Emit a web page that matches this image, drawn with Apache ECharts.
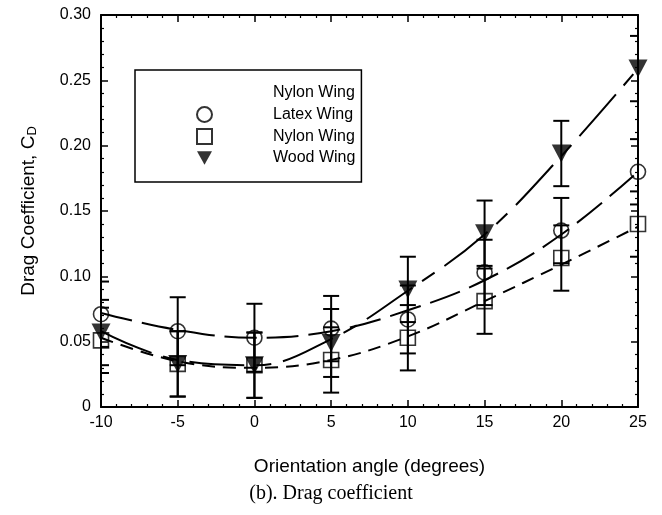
<!DOCTYPE html>
<html>
<head>
<meta charset="utf-8">
<script src="https://cdn.jsdelivr.net/npm/echarts@6/dist/echarts.min.js"></script>
<style>
  html, body { margin: 0; padding: 0; background: #fff; }
  #chart { width: 662px; height: 515px; }
</style>
</head>
<body>
<div id="chart"></div>
<script>
// Orientation angles (degrees)
const angles = [-10, -5, 0, 5, 10, 15, 20, 25];

// Measured drag coefficients
const latexCd = [0.071, 0.058, 0.053, 0.060, 0.067, 0.103, 0.135, 0.180];
const nylonCd = [0.051, 0.033, 0.032, 0.036, 0.053, 0.081, 0.114, 0.140];
const woodCd  = [0.057, 0.033, 0.032, 0.049, 0.090, 0.133, 0.194, 0.259];

// Uncertainty (half-height of each error bar)
const latexErr = [0.025, 0.026, 0.026, 0.025, 0.026, 0.025, 0.025, 0.025];
const nylonErr = [0.025, 0.025, 0.025, 0.025, 0.025, 0.025, 0.025, 0.025];
const woodErr  = [0.025, 0.025, 0.025, 0.026, 0.025, 0.025, 0.025, 0.025];

// Trend curves through each data set
const latexFit = [0.072, 0.059, 0.053, 0.058, 0.074, 0.097, 0.132, 0.180];
const nylonFit = [0.053, 0.035, 0.030, 0.036, 0.054, 0.081, 0.109, 0.138];
const woodFit  = [0.058, 0.036, 0.032, 0.052, 0.089, 0.132, 0.192, 0.259];

// Axis tick labels
const xTickLabels = ['-10', '-5', '0', '5', '10', '15', '20', '25'];
const yTickLabels = ['0', '0.05', '0.10', '0.15', '0.20', '0.25', '0.30'];

const FONT = '"Liberation Sans", Arial, Helvetica, sans-serif';
const BLACK = '#000';
// Downward-pointing triangle marker
const DOWN_TRIANGLE = 'path://M0,0L10,0L5,9Z';

const pairs = (xs, ys) => xs.map((x, i) => [x, ys[i]]);

function errorBars(name, values, errs) {
  return {
    type: 'custom',
    name: name,
    silent: true,
    clip: true,
    z: 3,
    data: angles.map((a, i) => [a, values[i] - errs[i], values[i] + errs[i]]),
    encode: { x: 0, y: [1, 2] },
    renderItem(params, api) {
      const lo = api.coord([api.value(0), api.value(1)]);
      const hi = api.coord([api.value(0), api.value(2)]);
      const hw = 8;
      const style = { stroke: BLACK, lineWidth: 2, fill: null };
      return {
        type: 'group',
        children: [
          { type: 'line', shape: { x1: hi[0], y1: hi[1], x2: lo[0], y2: lo[1] }, style },
          { type: 'line', shape: { x1: hi[0] - hw, y1: hi[1], x2: hi[0] + hw, y2: hi[1] }, style },
          { type: 'line', shape: { x1: lo[0] - hw, y1: lo[1], x2: lo[0] + hw, y2: lo[1] }, style }
        ]
      };
    }
  };
}

function fitLine(name, values, dash) {
  return {
    type: 'line',
    name: name,
    data: pairs(angles, values),
    smooth: 0.4,
    showSymbol: false,
    symbol: 'none',
    silent: true,
    z: 2,
    lineStyle: { color: BLACK, width: 2, type: dash }
  };
}

function points(name, values, symbol, filled, size) {
  return {
    type: 'scatter',
    name: name,
    data: pairs(angles, values),
    symbol: symbol,
    symbolSize: size,
    z: 4,
    itemStyle: {
      color: filled ? BLACK : 'rgba(0,0,0,0)',
      borderColor: BLACK,
      borderWidth: filled ? 0 : 1.6
    }
  };
}

const axisCommon = {
  type: 'value',
  axisLine: { show: true, onZero: false, lineStyle: { color: BLACK, width: 2 } },
  axisTick: { show: true, inside: true, length: 7, lineStyle: { color: BLACK, width: 1.5 } },
  minorTick: { show: true, splitNumber: 5, length: 3, lineStyle: { color: BLACK, width: 1.2 } },
  splitLine: { show: false },
  minorSplitLine: { show: false }
};

const chart = echarts.init(document.getElementById('chart'), null, { renderer: 'canvas' });

chart.setOption({
  backgroundColor: '#fff',
  animation: false,
  grid: { left: 101, right: 24, top: 15, bottom: 108 },
  xAxis: [
    Object.assign({}, axisCommon, {
      position: 'bottom',
      min: -10, max: 25, interval: 5,
      axisLabel: {
        color: BLACK, fontSize: 16, fontFamily: FONT, margin: 8,
        formatter: v => xTickLabels[angles.indexOf(v)] ?? String(v)
      },
      name: 'Orientation angle (degrees)',
      nameLocation: 'middle',
      nameGap: 50,
      nameTextStyle: { color: BLACK, fontSize: 19, fontFamily: FONT }
    }),
    Object.assign({}, axisCommon, {
      position: 'top',
      min: -10, max: 25, interval: 5,
      axisLabel: { show: false }
    })
  ],
  yAxis: [
    Object.assign({}, axisCommon, {
      position: 'left',
      min: 0, max: 0.3, interval: 0.05,
      axisLabel: {
        color: BLACK, fontSize: 16, fontFamily: FONT, margin: 10,
        formatter: v => yTickLabels[Math.round(v / 0.05)]
      },
      name: 'Drag Coefficient, C{sub|D}',
      nameLocation: 'middle',
      nameGap: 62,
      nameTextStyle: {
        color: BLACK, fontSize: 19, fontFamily: FONT,
        rich: { sub: { fontSize: 13, fontFamily: FONT, color: BLACK, verticalAlign: 'bottom', padding: [8, 0, 0, 0] } }
      }
    }),
    Object.assign({}, axisCommon, {
      position: 'right',
      min: 0, max: 0.3, interval: 0.05,
      axisLabel: { show: false }
    })
  ],
  legend: {
    orient: 'vertical',
    left: 135,
    top: 70,
    padding: [15, 6, 16, 61],
    itemWidth: 15,
    itemHeight: 15,
    itemGap: 5,
    borderColor: BLACK,
    borderWidth: 1.5,
    selectedMode: false,
    textStyle: { color: BLACK, fontSize: 16, fontFamily: FONT, padding: [0, 0, 0, 56] },
    formatter: name => (name === 'Nylon fit' ? 'Nylon Wing' : name),
    data: [
      { name: 'Nylon fit', icon: 'none', lineStyle: { opacity: 0 }, itemStyle: { opacity: 0 } },
      'Latex Wing',
      'Nylon Wing',
      'Wood Wing'
    ]
  },
  graphic: [{
    type: 'text',
    left: 'center',
    top: 484,
    style: {
      text: '(b). Drag coefficient',
      fontSize: 20,
      fontFamily: '"Liberation Serif", "Times New Roman", serif',
      fill: BLACK
    }
  }],
  series: [
    fitLine('Latex fit', latexFit, [32, 10]),
    fitLine('Nylon fit', nylonFit, [13, 8]),
    fitLine('Wood fit', woodFit, [55, 12, 15, 12]),
    errorBars('Latex error', latexCd, latexErr),
    errorBars('Nylon error', nylonCd, nylonErr),
    errorBars('Wood error', woodCd, woodErr),
    points('Latex Wing', latexCd, 'circle', false, 15),
    points('Nylon Wing', nylonCd, 'rect', false, 15),
    points('Wood Wing', woodCd, DOWN_TRIANGLE, true, [19, 18])
  ]
});
</script>
</body>
</html>
